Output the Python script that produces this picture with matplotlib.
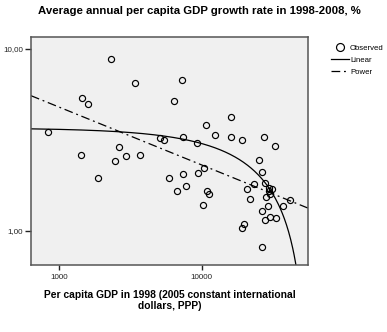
import matplotlib
matplotlib.use('Agg')
import matplotlib.pyplot as plt
import numpy as np

plt.rcParams['font.family'] = ['Liberation Sans', 'DejaVu Sans']

# per capita GDP in 1998 and average growth 1998-2008
gdp = [833, 2307, 3400, 7310, 1437, 1582, 6340, 5120, 5460, 7390,
       9310, 2640, 1420, 2917, 3700, 2449, 1864, 5890, 7360, 9340,
       6730, 7780, 16060, 10690, 12340, 16060, 19190, 27380, 32700, 25350,
       26300, 10380, 10930, 11200, 10160, 20700, 23110, 21660, 27830, 29690,
       31260, 29450, 29930, 28290, 29080, 37060, 41890, 26650, 30080, 33360,
       27920, 19820, 19090, 26390]
growth = [3.48, 8.85, 6.48, 6.76, 5.38, 4.97, 5.17, 3.24, 3.17, 3.29,
          3.03, 2.89, 2.62, 2.59, 2.62, 2.41, 1.955, 1.955, 2.06, 2.07,
          1.644, 1.752, 4.21, 3.80, 3.34, 3.27, 3.17, 3.26, 2.94, 2.44,
          2.09, 2.20, 1.66, 1.59, 1.38, 1.70, 1.80, 1.50, 1.835, 1.708,
          1.705, 1.644, 1.59, 1.53, 1.36, 1.36, 1.48, 1.275, 1.19, 1.18,
          1.145, 1.086, 1.04, 0.817]

# fitted models as shown in the chart
lin_a, lin_b = 3.675, -6.6e-5      # y = a + b*x
pow_c, pow_d = 43.0, -0.318        # y = c * x^d

xlim = (632, 55780)
ylim = (0.647, 11.64)

fig = plt.figure(figsize=(3.87, 3.32), dpi=100)
ax = fig.add_axes([0.0801, 0.2018, 0.7158, 0.6868])
ax.set_facecolor('#f0f0f0')

xs = np.logspace(np.log10(xlim[0]), np.log10(xlim[1]), 400)
ylin = lin_a + lin_b * xs
ylin[ylin <= 0] = np.nan
ypow = pow_c * xs ** pow_d

ax.plot(gdp, growth, linestyle='none', marker='o', markersize=4.4,
        markerfacecolor='none', markeredgecolor='black', markeredgewidth=0.85,
        label='Observed', zorder=3)
ax.plot(xs, ylin, color='black', lw=0.9, label='Linear')
ax.plot(xs, ypow, color='black', lw=0.9, linestyle=(0, (7, 3, 1.5, 3)), label='Power')

ax.set_xscale('log')
ax.set_yscale('log')
ax.set_xlim(*xlim)
ax.set_ylim(*ylim)

ax.set_xticks([1000, 10000])
ax.set_xticklabels(['1000', '10000'])
ax.set_yticks([1, 10])
ax.set_yticklabels(['1,00', '10,00'])
ax.minorticks_off()
ax.tick_params(axis='x', length=3.8, width=1.0, pad=3, labelsize=5.8, colors='#222222')
ax.tick_params(axis='y', length=4.5, width=1.0, pad=1, labelsize=5.8, colors='#222222')

for s in ax.spines.values():
    s.set_color('#555555')
    s.set_linewidth(1.1)

fig.text(0.514, 1 - 11 / 332, 'Average annual per capita GDP growth rate in 1998-2008, %',
         ha='center', va='center', fontsize=8.2, fontweight='bold')

ax.set_xlabel('Per capita GDP in 1998 (2005 constant international\ndollars, PPP)',
              fontsize=7.4, fontweight='bold', labelpad=6, linespacing=1.1)

leg = ax.legend(loc='upper left', bbox_to_anchor=(1.07, 0.98), frameon=False,
                fontsize=5.6, handlelength=2.4, handletextpad=0.1,
                labelspacing=0.55, markerscale=1.3, borderaxespad=0)

plt.savefig('out.png', dpi=100)
